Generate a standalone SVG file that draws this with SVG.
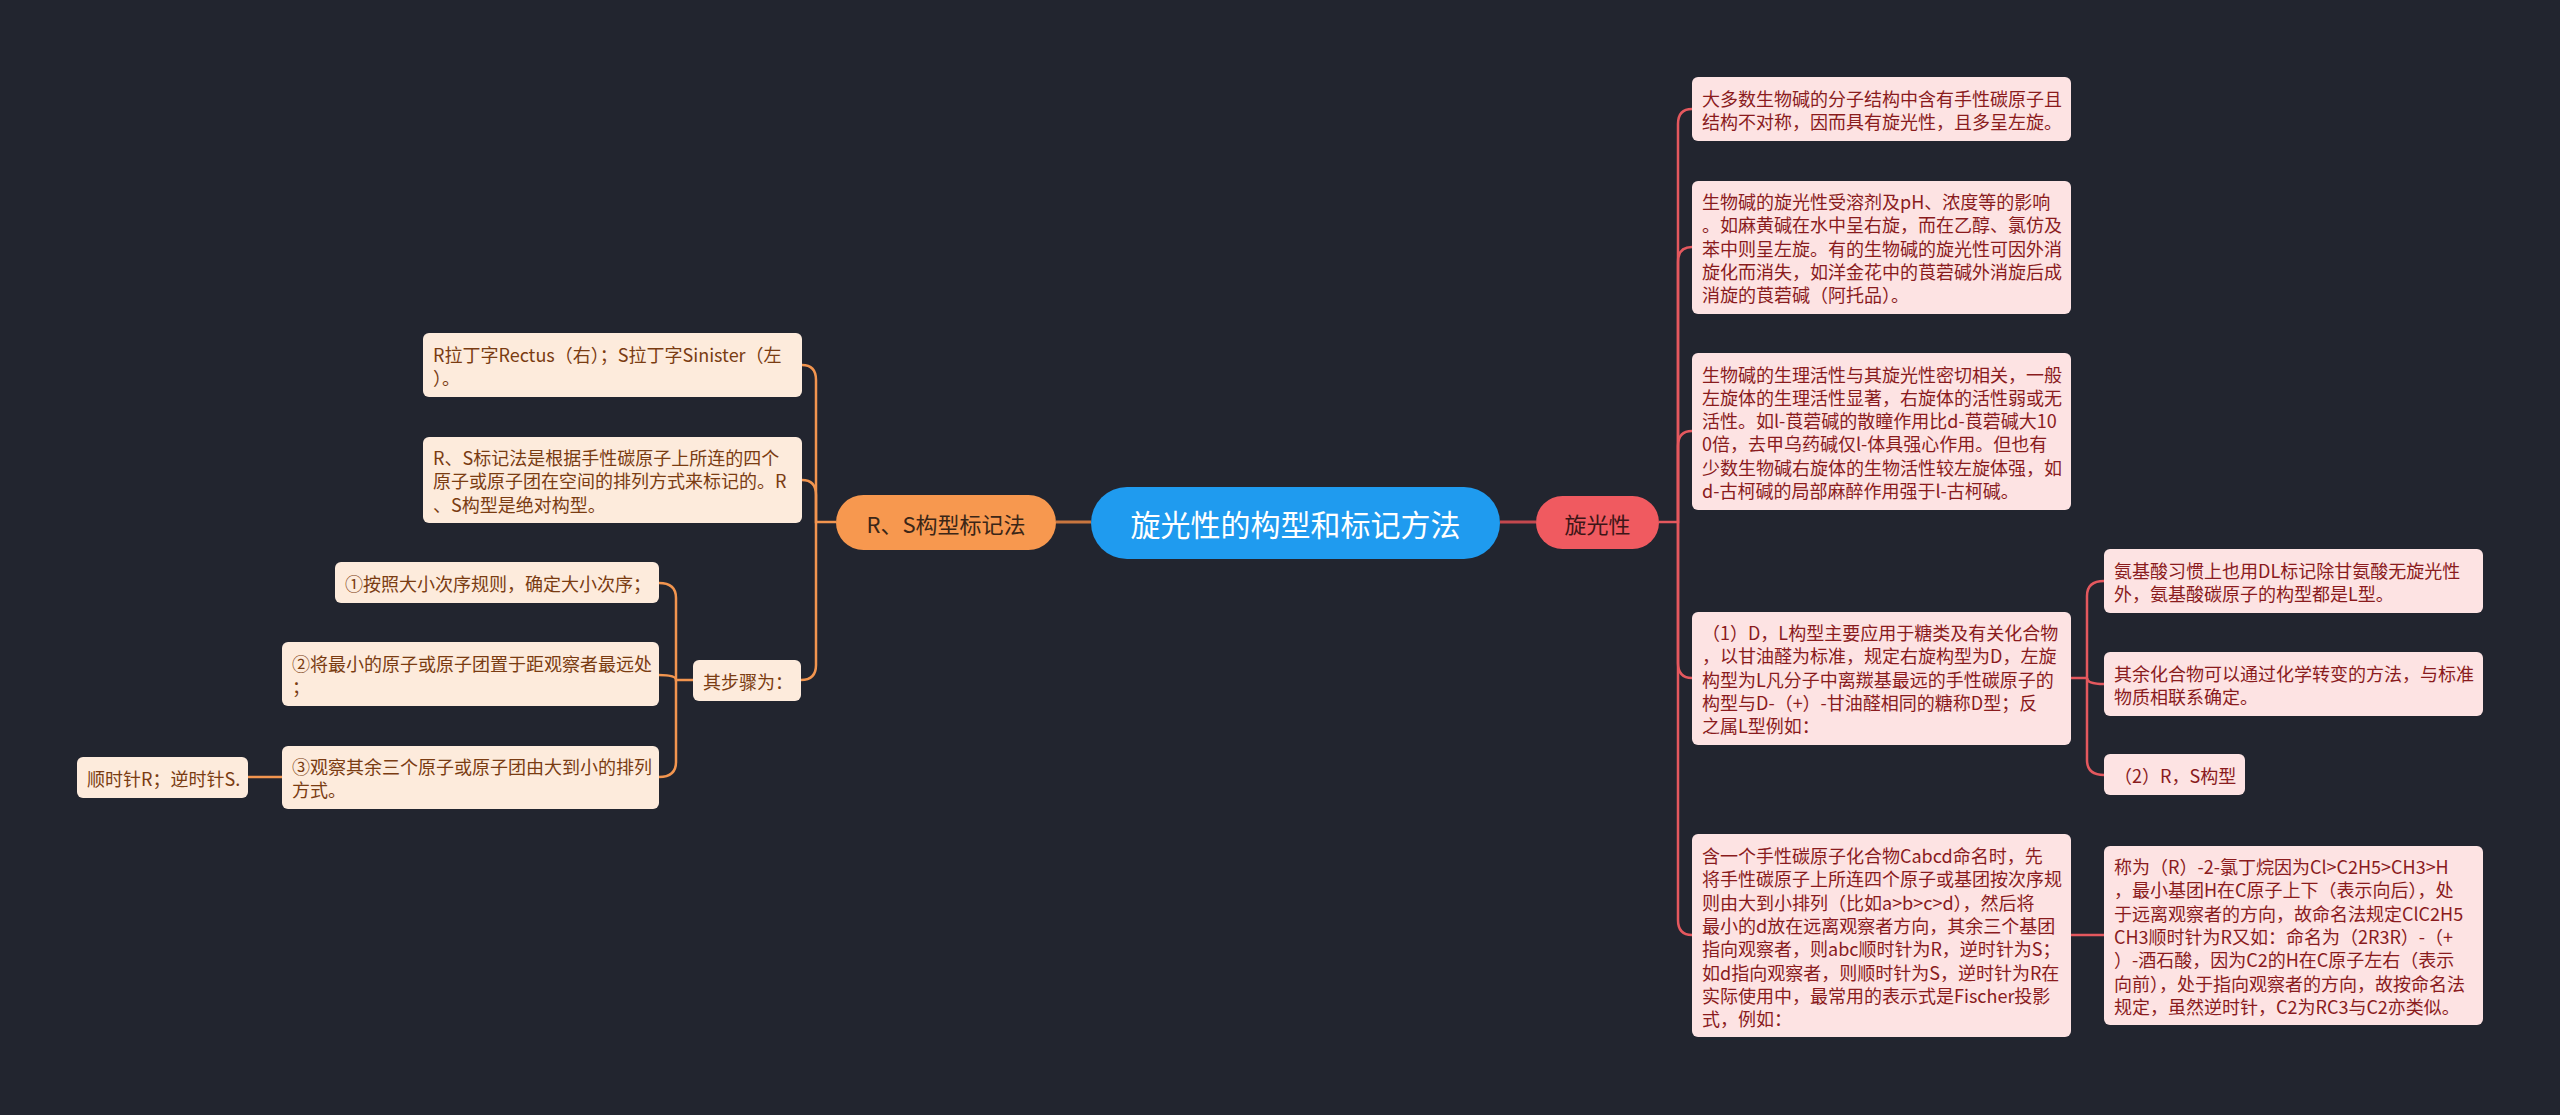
<svg xmlns="http://www.w3.org/2000/svg" width="2560" height="1115" viewBox="0 0 2560 1115">
<style>
text{font-family:"Noto Sans CJK SC","Noto Sans",sans-serif;dominant-baseline:central}
.bg{fill:#22252f}
.lr{fill:#fde3e3}
.ll{fill:#fdebdc}
.tr{font-size:18px;fill:#8a1b1d}
.tl{font-size:18px;fill:#7a3c12}
.cr{fill:none;stroke:#e4585e;stroke-width:2.5}
.co{fill:none;stroke:#f2954f;stroke-width:2.5}
</style>
<rect class="bg" x="0" y="0" width="2560" height="1115"/>
<g id="connectors">
<path d="M1056 522 H1091" fill="none" stroke="#c9763f" stroke-width="3"/>
<path d="M1500 522 H1536" fill="none" stroke="#c4484e" stroke-width="3"/>
<path class="cr" d="M1659 522 H1678 V124 Q1678 109 1692 109"/>
<path class="cr" d="M1678 522 V262 Q1678 247 1692 247"/>
<path class="cr" d="M1678 522 V446 Q1678 431 1692 431"/>
<path class="cr" d="M1678 522 V663 Q1678 678 1692 678"/>
<path class="cr" d="M1678 522 V920 Q1678 935 1692 935"/>
<path class="cr" d="M2071 678 H2087 V596 Q2087 581 2104 581"/>
<path class="cr" d="M2087 678 Q2087 684 2104 684"/>
<path class="cr" d="M2087 678 V760 Q2087 775 2104 775"/>
<path class="cr" d="M2071 935 H2104"/>
<path class="co" d="M836 522 H816 V380 Q816 365 802 365"/>
<path class="co" d="M816 522 V495 Q816 480 802 480"/>
<path class="co" d="M816 522 V665 Q816 680 801 680"/>
<path class="co" d="M693 680 H676 V598 Q676 583 659 583"/>
<path class="co" d="M676 680 Q676 675 659 675"/>
<path class="co" d="M676 680 V762 Q676 777 659 777"/>
<path class="co" d="M282 777 H248"/>
</g>
<g id="center">
<rect x="1091" y="487" width="409" height="72" rx="36" fill="#1f9bef"/>
<text x="1295.5" y="523" font-size="30" fill="#ffffff" text-anchor="middle">旋光性的构型和标记方法</text>
</g>
<g id="rs">
<rect x="836" y="495" width="220" height="55" rx="27.5" fill="#f7984f"/>
<text x="946" y="523" font-size="22" fill="#3b2617" text-anchor="middle">R、S构型标记法</text>
</g>
<g id="xgx">
<rect x="1536" y="496" width="123" height="53" rx="26.5" fill="#f05a60"/>
<text x="1597.5" y="523" font-size="22" fill="#3d1517" text-anchor="middle">旋光性</text>
</g>
<g id="r1">
<rect class="lr" x="1692" y="77" width="379" height="64" rx="6"/>
<text class="tr" x="1702" y="97.5">大多数生物碱的分子结构中含有手性碳原子且</text>
<text class="tr" x="1702" y="120.8">结构不对称，因而具有旋光性，且多呈左旋。</text>
</g>
<g id="r2">
<rect class="lr" x="1692" y="181" width="379" height="133" rx="6"/>
<text class="tr" x="1702" y="201">生物碱的旋光性受溶剂及pH、浓度等的影响</text>
<text class="tr" x="1702" y="224.3">。如麻黄碱在水中呈右旋，而在乙醇、氯仿及</text>
<text class="tr" x="1702" y="247.6">苯中则呈左旋。有的生物碱的旋光性可因外消</text>
<text class="tr" x="1702" y="270.9">旋化而消失，如洋金花中的莨菪碱外消旋后成</text>
<text class="tr" x="1702" y="294.2">消旋的莨菪碱（阿托品）。</text>
</g>
<g id="r3">
<rect class="lr" x="1692" y="353" width="379" height="157" rx="6"/>
<text class="tr" x="1702" y="373.5">生物碱的生理活性与其旋光性密切相关，一般</text>
<text class="tr" x="1702" y="396.8">左旋体的生理活性显著，右旋体的活性弱或无</text>
<text class="tr" x="1702" y="420.1">活性。如l-莨菪碱的散瞳作用比d-莨菪碱大10</text>
<text class="tr" x="1702" y="443.4">0倍，去甲乌药碱仅l-体具强心作用。但也有</text>
<text class="tr" x="1702" y="466.7">少数生物碱右旋体的生物活性较左旋体强，如</text>
<text class="tr" x="1702" y="490">d-古柯碱的局部麻醉作用强于l-古柯碱。</text>
</g>
<g id="r4">
<rect class="lr" x="1692" y="612" width="379" height="133" rx="6"/>
<text class="tr" x="1702" y="632">（1）D，L构型主要应用于糖类及有关化合物</text>
<text class="tr" x="1702" y="655.3">，以甘油醛为标准，规定右旋构型为D，左旋</text>
<text class="tr" x="1702" y="678.6">构型为L凡分子中离羰基最远的手性碳原子的</text>
<text class="tr" x="1702" y="701.9">构型与D-（+）-甘油醛相同的糖称D型；反</text>
<text class="tr" x="1702" y="725.2">之属L型例如：</text>
</g>
<g id="r5">
<rect class="lr" x="1692" y="834" width="379" height="203" rx="6"/>
<text class="tr" x="1702" y="855">含一个手性碳原子化合物Cabcd命名时，先</text>
<text class="tr" x="1702" y="878.3">将手性碳原子上所连四个原子或基团按次序规</text>
<text class="tr" x="1702" y="901.6">则由大到小排列（比如a&gt;b&gt;c&gt;d），然后将</text>
<text class="tr" x="1702" y="924.9">最小的d放在远离观察者方向，其余三个基团</text>
<text class="tr" x="1702" y="948.2">指向观察者，则abc顺时针为R，逆时针为S；</text>
<text class="tr" x="1702" y="971.5">如d指向观察者，则顺时针为S，逆时针为R在</text>
<text class="tr" x="1702" y="994.8">实际使用中，最常用的表示式是Fischer投影</text>
<text class="tr" x="1702" y="1018.1">式，例如：</text>
</g>
<g id="r4a">
<rect class="lr" x="2104" y="549" width="379" height="64" rx="6"/>
<text class="tr" x="2114" y="569.5">氨基酸习惯上也用DL标记除甘氨酸无旋光性</text>
<text class="tr" x="2114" y="592.8">外，氨基酸碳原子的构型都是L型。</text>
</g>
<g id="r4b">
<rect class="lr" x="2104" y="652" width="379" height="64" rx="6"/>
<text class="tr" x="2114" y="672.5">其余化合物可以通过化学转变的方法，与标准</text>
<text class="tr" x="2114" y="695.8">物质相联系确定。</text>
</g>
<g id="r4c">
<rect class="lr" x="2104" y="754" width="141" height="41" rx="6"/>
<text class="tr" x="2114" y="775">（2）R，S构型</text>
</g>
<g id="r5a">
<rect class="lr" x="2104" y="846" width="379" height="179" rx="6"/>
<text class="tr" x="2114" y="866">称为（R）-2-氯丁烷因为Cl&gt;C2H5&gt;CH3&gt;H</text>
<text class="tr" x="2114" y="889.3">，最小基团H在C原子上下（表示向后），处</text>
<text class="tr" x="2114" y="912.6">于远离观察者的方向，故命名法规定ClC2H5</text>
<text class="tr" x="2114" y="935.9">CH3顺时针为R又如：命名为（2R3R）-（+</text>
<text class="tr" x="2114" y="959.2">）-酒石酸，因为C2的H在C原子左右（表示</text>
<text class="tr" x="2114" y="982.5">向前），处于指向观察者的方向，故按命名法</text>
<text class="tr" x="2114" y="1005.8">规定，虽然逆时针，C2为RC3与C2亦类似。</text>
</g>
<g id="l1">
<rect class="ll" x="423" y="333" width="379" height="64" rx="6"/>
<text class="tl" x="433" y="353.5">R拉丁字Rectus（右）；S拉丁字Sinister（左</text>
<text class="tl" x="433" y="376.8">）。</text>
</g>
<g id="l2">
<rect class="ll" x="423" y="437" width="379" height="86" rx="6"/>
<text class="tl" x="433" y="457">R、S标记法是根据手性碳原子上所连的四个</text>
<text class="tl" x="433" y="480.3">原子或原子团在空间的排列方式来标记的。R</text>
<text class="tl" x="433" y="503.6">、S构型是绝对构型。</text>
</g>
<g id="l3">
<rect class="ll" x="693" y="660" width="108" height="41" rx="6"/>
<text class="tl" x="703" y="681">其步骤为：</text>
</g>
<g id="s1">
<rect class="ll" x="335" y="562" width="324" height="41" rx="6"/>
<text class="tl" x="345" y="583">①按照大小次序规则，确定大小次序；</text>
</g>
<g id="s2">
<rect class="ll" x="282" y="642" width="377" height="64" rx="6"/>
<text class="tl" x="292" y="662.5">②将最小的原子或原子团置于距观察者最远处</text>
<text class="tl" x="292" y="685.8">；</text>
</g>
<g id="s3">
<rect class="ll" x="282" y="746" width="377" height="63" rx="6"/>
<text class="tl" x="292" y="766">③观察其余三个原子或原子团由大到小的排列</text>
<text class="tl" x="292" y="789.3">方式。</text>
</g>
<g id="s4">
<rect class="ll" x="77" y="757" width="171" height="41" rx="6"/>
<text class="tl" x="87" y="778">顺时针R；逆时针S.</text>
</g>
</svg>
